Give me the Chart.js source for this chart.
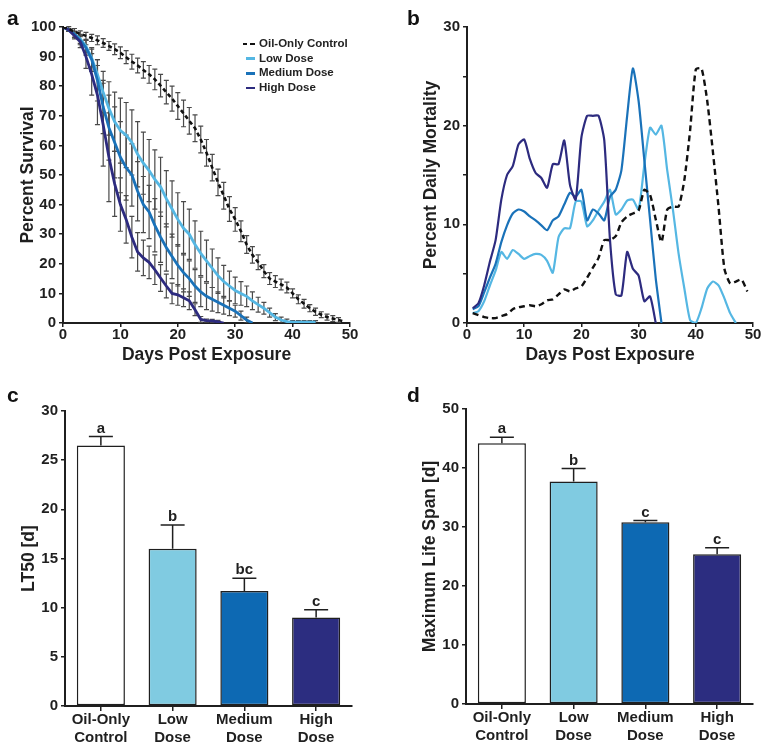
<!DOCTYPE html>
<html>
<head>
<meta charset="utf-8">
<script src="https://cdn.jsdelivr.net/npm/chart.js@4.4.1/dist/chart.umd.min.js"></script>
<style>
    body { margin: 0; background: #fff; width: 767px; height: 749px; position: relative; overflow: hidden;
           font-family: 'Liberation Sans', Arial, sans-serif; }
    .panel { position: absolute; }
    .letter { position: absolute; font-weight: bold; font-size: 21px; line-height: 21px; color: #111; }
    .legend { position: absolute; left: 243px; top: 36px; font-weight: bold; font-size: 11.5px; color: #222; }
    .legend div { height: 14.7px; line-height: 14.7px; white-space: nowrap; }
    .legend span { display: inline-block; width: 9px; height: 2.5px; vertical-align: middle; margin: 0 4px 0 3px; }
    .legend span.dash { width: 12px; margin-left: 0; background: repeating-linear-gradient(90deg, #111 0 4.5px, transparent 4.5px 7.5px); }
</style>
</head>
<body>

<div class="panel" style="left:0;top:0;width:370px;height:370px"><canvas id="survChart"></canvas></div>
<div class="panel" style="left:380px;top:0;width:387px;height:370px"><canvas id="mortChart"></canvas></div>
<div class="panel" style="left:0;top:370px;width:380px;height:379px"><canvas id="lt50Chart"></canvas></div>
<div class="panel" style="left:380px;top:370px;width:387px;height:379px"><canvas id="lifeChart"></canvas></div>

<div class="letter" style="left:7px;top:7px">a</div>
<div class="letter" style="left:407px;top:7px">b</div>
<div class="letter" style="left:7px;top:384px">c</div>
<div class="letter" style="left:407px;top:384px">d</div>

<div class="legend">
    <div><span class="dash"></span>Oil-Only Control</div>
    <div><span style="background:#55b7e3"></span>Low Dose</div>
    <div><span style="background:#1a72b9"></span>Medium Dose</div>
    <div><span style="background:#2d2b7f"></span>High Dose</div>
</div>

<script>
/* ── Data: panel a (percent survival) ── */
const survDays = [0,1,2,3,4,5,6,7,8,9,10,11,12,13,14,15,16,17,18,19,20,21,22,23,24,25,26,27,28,29,
                  30,31,32,33,34,35,36,37,38,39,40,41,42,43,44,45,46,47,48,49];
const ctrlSurv = [100,99.3,98.5,97.7,97,96.3,95.5,94.6,93.6,92.5, 91.3,89.8,88.3,87,85.5,84,82.3,80.2,78,75.8,
                  73.3,70.8,68.3,65.8,62,57.5,52.5,47.5,43,38.5, 35,31,26.5,23,20.5,17.5,15,14,13,12,
                  10,8,6.5,5,3.8,2.8,2,1.5,1,0.5];
const ctrlErr  = [0,0.8,1,1,1.2,1.2,1.5,1.5,1.5,1.8, 2,2.2,2.5,2.5,2.8,3,3.5,3.8,4,4.2,
                  4.5,4.5,4.5,4.5,4.5,4.5,4.5,4.5,4.5,4.2, 4,3.5,3,2.8,2.5,2.2,2,2,1.8,1.8,
                  1.5,1.5,1.5,1.2,1.2,1,1,1,0.8,0];
const lowSurv  = [100,99,97.5,96,93.5,89.5,84,78,72.5,68, 65,63.5,61,57,54,51.5,48.5,46,42,38.5,
                  35,32,30,26.5,23.5,21,18.5,16,14,12.5, 11,10,9,7.5,6.2,5,3.5,2,1,0.5,
                  0.3,0.3,0.3,0.3,0.3];
const lowErr   = [0,0.5,1,1.5,2,3,5,7,9,10, 11,11,11,11,10.5,10.5,10,10,9.5,9.5,
                  9,9,8.5,8,7.5,7,6.5,6,5.5,5, 4.5,4,3.5,3,2.5,2,1.5,1.2,1,0.8,
                  0.5,0.5,0.5,0.5,0.5];
const medSurv  = [100,99,97.5,95.5,93,89,82,73,66,61, 56,52.5,50,44.5,40,37.5,33,29,25.5,22.5,
                  19.5,17,15,12.5,10.5,9,8,7,6,5, 4,2.5,1,0];
const medErr   = [0,0.5,1,1.5,2.5,4,7,9,11,12, 12,11,10.5,10,9.5,9,9,8.5,8,7.5,
                  7,6.5,6,5.5,5,4.5,4,3.5,3,2.5, 2,1.5,1,0];
const highSurv = [100,99,97,95,90,84,77,67,56,47, 40,35,29,24,22,20.5,18,15.2,12.5,10,
                  9.5,8.5,7.5,4.5,1.2,0.8,0.7,0.4,0];
const highErr  = [0,0.5,1,2,4,7,10,14,15,11, 9,8,7,6.5,6,5.5,5,4.5,4,3.5,
                  3.5,3,3,2,1,0.5,0.5,0.5,0];

/* ── Data: panel b (percent daily mortality) ── */
const mortDays = [1,2,3,4,5,6,7,8,9,10,11,12,13,14,15,16,17,18,19,20,21,22,23,24,25,26,27,28,29,30,
                  31,32,33,34,35,36,37,38,39,40,41,42,43,44,45,46,47,48,49];
const ctrlMort = [1.0,0.8,0.6,0.5,0.5,0.7,0.9,1.4,1.6,1.7, 1.8,1.7,1.9,2.3,2.4,2.9,3.4,3.2,3.5,3.7,
                  4.6,5.6,6.6,8.4,8.4,8.8,10.2,10.8,11.1,11.4, 13.5,13.0,10.5,8.2,11.5,11.8,11.8,14.5,19.5,25.7,
                  25.8,22.5,17.3,11.6,5.5,4.0,4.2,4.4,3.2];
const lowMort  = [1.0,1.2,2.2,3.8,5.3,7.2,6.5,7.4,7.0,6.5, 6.8,7.0,6.9,6.3,5.1,8.7,9.6,9.6,12.3,12.3,
                  9.8,10.4,11.4,12.3,13.5,11.0,11.5,12.4,12.5,11.5, 16.0,19.8,19.1,20.0,15.5,11.5,7.0,3.5,0.3,0.0,
                  1.5,3.5,4.2,3.8,2.5,1.0,0.0];
const medMort  = [1.4,1.7,3.1,4.6,6.0,8.2,9.9,11.1,11.5,11.3, 10.8,10.4,9.9,9.4,10.4,10.8,12.0,13.2,12.8,13.5,
                  10.4,11.5,11.1,10.4,12.8,13.5,15.5,21.0,25.8,22.5, 16.5,10.5,4.5,0.0];
const highMort = [1.5,2.0,3.8,6.2,8.4,12.5,15.0,15.9,18.1,18.6, 16.6,15.2,14.7,13.7,16.1,16.1,18.5,14.0,12.5,18.8,
                  21.0,21.0,21.0,18.5,8.4,2.9,2.8,7.2,5.5,4.8, 2.2,2.7,0.0];

/* ── Data: panels c and d ── */
const groups     = [['Oil-Only', 'Control'], ['Low', 'Dose'], ['Medium', 'Dose'], ['High', 'Dose']];
const lt50       = [26.5, 16.0, 11.7, 9.0];
const lt50Err    = [0.9, 2.4, 1.3, 0.8];
const lt50Sig    = ['a', 'b', 'bc', 'c'];
const maxLife    = [44.2, 37.7, 30.8, 25.4];
const maxLifeErr = [1.0, 2.2, 0.3, 1.1];
const maxLifeSig = ['a', 'b', 'c', 'c'];

/* ── Colours ── */
const INK  = '#1f1f1f';
const CTRL = '#111111', LOW = '#55b7e3', MED = '#1a72b9', HIGH = '#2d2b7f';
const BAR_FILL = ['#ffffff', '#80cbe1', '#0d69b3', '#2c2d80'];
const FONT = "'Liberation Sans', Arial, sans-serif";

Chart.defaults.font.family = FONT;
Chart.defaults.font.weight = 'bold';
Chart.defaults.color = INK;
Chart.defaults.animation = false;

/* ── Helpers ── */
const pts = (xs, ys) => ys.map((v, i) => ({ x: xs[i], y: v }));

function axis(opts) {
    return Object.assign({
        grid:   { display: true, drawOnChartArea: false, drawTicks: true, tickLength: 4, color: INK, lineWidth: 1.5 },
        border: { display: true, color: INK, width: 2 },
    }, opts);
}
function tickFont() { return { size: 15, lineHeight: 1 }; }
function titleOpt(text) { return { display: true, text: text, color: INK, font: { size: 17.5 }, padding: { top: 4, bottom: 4 } }; }

/* ── Error bars for the survival curves ── */
const survErrPlugin = {
    id: 'survErr',
    beforeDatasetsDraw(chart) {
        const { ctx, chartArea: a, scales: { x, y } } = chart;
        ctx.save();
        ctx.beginPath();
        ctx.rect(a.left, a.top - 2, a.right - a.left, a.bottom - a.top + 2);
        ctx.clip();
        ctx.strokeStyle = '#4a4a4a';
        ctx.lineWidth = 1.2;
        chart.data.datasets.forEach(ds => {
            ds.data.forEach((p, i) => {
                const e = ds.errors[i];
                if (!e) return;
                const px = x.getPixelForValue(p.x);
                const t = y.getPixelForValue(p.y + e), b = y.getPixelForValue(p.y - e);
                ctx.beginPath();
                ctx.moveTo(px, t); ctx.lineTo(px, b);
                ctx.moveTo(px - 2.5, t); ctx.lineTo(px + 2.5, t);
                ctx.moveTo(px - 2.5, b); ctx.lineTo(px + 2.5, b);
                ctx.stroke();
            });
        });
        ctx.restore();
    }
};

/* ── Panel a ── */
new Chart(document.getElementById('survChart'), {
    type: 'line',
    data: {
        datasets: [
            { label: 'Oil-Only Control', data: pts(survDays, ctrlSurv), errors: ctrlErr, borderColor: CTRL, borderWidth: 2.6, borderDash: [4, 3], order: 1 },
            { label: 'Low Dose',    data: pts(survDays, lowSurv),  errors: lowErr,  borderColor: LOW,  borderWidth: 2.8, order: 4 },
            { label: 'Medium Dose', data: pts(survDays, medSurv),  errors: medErr,  borderColor: MED,  borderWidth: 2.8, order: 3 },
            { label: 'High Dose',   data: pts(survDays, highSurv), errors: highErr, borderColor: HIGH, borderWidth: 2.8, order: 2 },
        ]
    },
    options: {
        responsive: true, maintainAspectRatio: false,
        layout: { padding: { left: 13.5, right: 20, top: 27, bottom: 0 } },
        elements: { point: { radius: 0 }, line: { tension: 0 } },
        plugins: { legend: { display: false }, tooltip: { enabled: false } },
        scales: {
            x: axis({ type: 'linear', min: 0, max: 50, ticks: { stepSize: 10, font: tickFont(), padding: 0 },
                      title: titleOpt('Days Post Exposure'), afterFit: s => { s.height = 47; } }),
            y: axis({ min: 0, max: 100, ticks: { stepSize: 10, font: tickFont(), padding: 3 },
                      title: titleOpt('Percent Survival'), afterFit: s => { s.width = 49.5; } }),
        }
    },
    plugins: [survErrPlugin]
});

/* ── Panel b ── */
new Chart(document.getElementById('mortChart'), {
    type: 'line',
    data: {
        datasets: [
            { label: 'Oil-Only Control', data: pts(mortDays, ctrlMort), borderColor: CTRL, borderWidth: 2.4, borderDash: [6, 4], order: 1 },
            { label: 'Low Dose',    data: pts(mortDays, lowMort),  borderColor: LOW,  borderWidth: 2.2, order: 4 },
            { label: 'Medium Dose', data: pts(mortDays, medMort),  borderColor: MED,  borderWidth: 2.2, order: 3 },
            { label: 'High Dose',   data: pts(mortDays, highMort), borderColor: HIGH, borderWidth: 2.2, order: 2 },
        ]
    },
    options: {
        responsive: true, maintainAspectRatio: false,
        layout: { padding: { left: 36.5, right: 14, top: 27, bottom: 0 } },
        elements: { point: { radius: 0 }, line: { tension: 0.2 } },
        plugins: { legend: { display: false }, tooltip: { enabled: false } },
        scales: {
            x: axis({ type: 'linear', min: 0, max: 50, ticks: { stepSize: 10, font: tickFont(), padding: 0 },
                      title: titleOpt('Days Post Exposure'), afterFit: s => { s.height = 47; } }),
            y: axis({ min: 0, max: 30, ticks: { stepSize: 5, font: tickFont(), padding: 3, callback: v => v % 10 === 0 ? v : '' },
                      title: titleOpt('Percent Daily Mortality'), afterFit: s => { s.width = 50.5; } }),
        }
    }
});

/* ── Bar error bars + significance letters ── */
const barErrPlugin = {
    id: 'barErr',
    afterDatasetsDraw(chart) {
        const { ctx, scales: { y } } = chart;
        const ds = chart.data.datasets[0];
        ctx.save();
        ctx.strokeStyle = INK;
        ctx.lineWidth = 1.5;
        ctx.fillStyle = INK;
        ctx.font = 'bold 15px ' + FONT;
        ctx.textAlign = 'center';
        ctx.textBaseline = 'alphabetic';
        chart.getDatasetMeta(0).data.forEach((bar, i) => {
            const y0 = y.getPixelForValue(ds.data[i]);
            const y1 = y.getPixelForValue(ds.data[i] + ds.errors[i]);
            ctx.beginPath();
            ctx.moveTo(bar.x, y0); ctx.lineTo(bar.x, y1);
            ctx.moveTo(bar.x - 12, y1); ctx.lineTo(bar.x + 12, y1);
            ctx.stroke();
            ctx.fillText(ds.letters[i], bar.x, y1 - 4);
        });
        ctx.restore();
    }
};

function barChart(id, values, errs, letters, yMax, yStep, yTitle, pad, xHeight) {
    return new Chart(document.getElementById(id), {
        type: 'bar',
        data: {
            labels: groups,
            datasets: [{
                data: values, errors: errs, letters: letters,
                backgroundColor: BAR_FILL, borderColor: INK, borderWidth: 1.5, borderSkipped: false,
                barPercentage: 0.67, categoryPercentage: 1
            }]
        },
        options: {
            responsive: true, maintainAspectRatio: false,
            layout: { padding: pad },
            plugins: { legend: { display: false }, tooltip: { enabled: false } },
            scales: {
                x: axis({ grid: { display: true, drawOnChartArea: false, drawTicks: true, tickLength: 5, color: INK, lineWidth: 1.5, offset: false },
                          ticks: { font: { size: 15, lineHeight: 1.2 }, padding: 0 },
                          afterFit: s => { s.height = xHeight; } }),
                y: axis({ min: 0, max: yMax, ticks: { stepSize: yStep, font: tickFont(), padding: 3 },
                          title: titleOpt(yTitle), afterFit: s => { s.width = 50.5; } }),
            }
        },
        plugins: [barErrPlugin]
    });
}

/* ── Panels c and d ── */
barChart('lt50Chart', lt50, lt50Err, lt50Sig, 30, 5, 'LT50 [d]',
         { left: 14.5, right: 28, top: 41, bottom: 0 }, 43);
barChart('lifeChart', maxLife, maxLifeErr, maxLifeSig, 50, 10, 'Maximum Life Span [d]',
         { left: 35.5, right: 14, top: 39, bottom: 0 }, 45);
</script>
</body>
</html>
